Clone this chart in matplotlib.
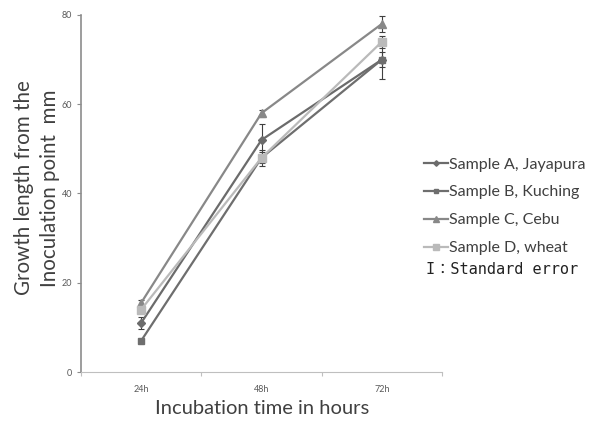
import matplotlib
matplotlib.use("Agg")
import matplotlib.pyplot as plt
from matplotlib.lines import Line2D

categories = ["24h", "48h", "72h"]
sample_a = [11, 52, 70]
sample_b = [7, 48, 70]
sample_c = [15.5, 58, 78]
sample_d = [14, 48, 74]
err_a = [1.4, 3.5, 1.7]
err_b = [0.3, 1.2, 4.3]
err_c = [0.6, 0.8, 1.8]
err_d = [0.8, 1.8, 1.3]
labels = ["Sample A, Jayapura", "Sample B, Kuching", "Sample C, Cebu", "Sample D, wheat"]
y_ticks = [0, 20, 40, 60, 80]

plt.rcParams['font.family'] = ['Lato', 'DejaVu Sans']

fig = plt.figure(figsize=(5.95, 4.21), dpi=100)
ax = fig.add_axes([81/595, 1-372/421, (442-81)/595, (372-15)/421])

x = list(range(len(categories)))
series = [
    (sample_a, err_a, "#6b6b6b", "D", 4),
    (sample_b, err_b, "#6e6e6e", "s", 5),
    (sample_c, err_c, "#888888", "^", 5.5),
    (sample_d, err_d, "#bababa", "s", 6),
]
handles = []
for (vals, errs, col, mk, ms), lab in zip(series, labels):
    ax.errorbar(x, vals, yerr=errs, color=col, ecolor="#404040", elinewidth=0.8,
                capsize=2.5, capthick=0.8, lw=1.6, marker=mk, markersize=ms,
                zorder=3)
    handles.append(Line2D([0], [0], color=col, lw=1.6, marker=mk, markersize=ms*0.7, label=lab))

ax.set_xlim(-0.5, 2.5)
ax.set_ylim(0, 80)
ax.set_yticks(y_ticks)
ax.set_xticks(x)
ax.set_xticklabels(categories)
ax.set_xticks([-0.5, 0.5, 1.5, 2.5], minor=True)
ax.tick_params(axis='x', which='major', length=0, labelsize=6.5, labelcolor="#595959", pad=9)
ax.tick_params(axis='x', which='minor', length=3, color="#bfbfbf", width=0.8)
ax.tick_params(axis='y', length=3, color="#8c8c8c", labelsize=6.5, labelcolor="#595959", width=0.8)
for s in ["top", "right"]:
    ax.spines[s].set_visible(False)
ax.spines["left"].set_color("#8c8c8c")
ax.spines["bottom"].set_color("#bfbfbf")
ax.spines["left"].set_linewidth(1.2)
ax.spines["bottom"].set_linewidth(0.8)

fig.text(262/595, 1-409/421, "Incubation time in hours", fontsize=14.5, color="#404040",
         ha="center", va="center")
fig.text(37/595, 1-188/421, "Growth length from the\nInoculation point  mm", rotation=90,
         fontsize=14.8, color="#404040", ha="center", va="center", linespacing=1.35)

leg = fig.legend(handles=handles, loc="upper left", bbox_to_anchor=(410/595, 1-143/421),
                 frameon=False, fontsize=11.5, handlelength=1.5, handletextpad=0.05,
                 labelspacing=0.86, labelcolor="#404040")
fig.text(426/595, 1-270/421, "I：Standard error", fontsize=11,
         family=["DejaVu Sans Mono", "Noto Sans CJK JP"], color="#222222", va="center")

fig.savefig("out.png", dpi=100)
